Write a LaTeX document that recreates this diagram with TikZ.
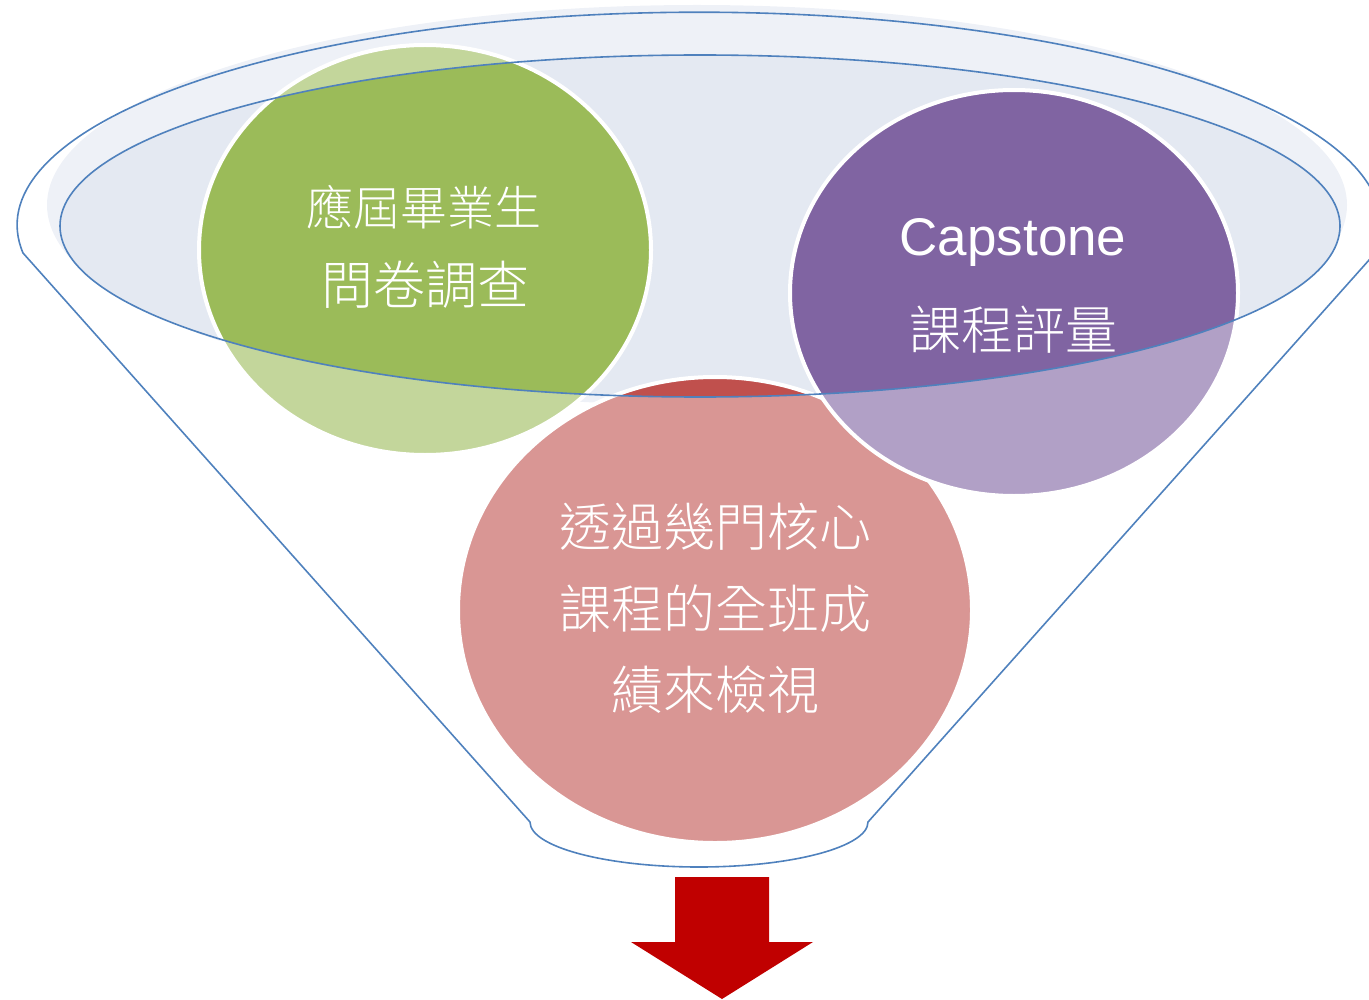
\documentclass[tikz,border=0pt]{standalone}
\usepackage{fontspec}
\newfontfamily\cjk{Noto Sans CJK TC Light}
\newfontfamily\lat{Liberation Sans}
\definecolor{outerfill}{HTML}{EEF1F7}
\definecolor{innerfill}{HTML}{E4E9F2}
\definecolor{funnelblue}{HTML}{4F81BD}
\definecolor{greenD}{HTML}{9BBB59}
\definecolor{greenL}{HTML}{C3D69B}
\definecolor{purpleD}{HTML}{8064A2}
\definecolor{purpleL}{HTML}{B1A0C6}
\definecolor{redD}{HTML}{C0504D}
\definecolor{redL}{HTML}{D99694}
\definecolor{arrowred}{HTML}{C00000}
\tikzset{
  funnel/.style={draw=funnelblue, line width=0.8pt},
  rim/.style={draw=white, line width=2pt},
  cjktxt/.style={text=white, font=\cjk\fontsize{26}{30}\selectfont, inner sep=0pt},
  lattxt/.style={text=white, font=\lat\fontsize{26.5}{30}\selectfont, inner sep=0pt}
}
\begin{document}
\begin{tikzpicture}[x=0.5pt,y=-0.5pt]
\useasboundingbox (0,0) rectangle (1369,1000);
\clip (0,0) rectangle (1369,1000);
% funnel mouth fills
\fill[outerfill] (697,205) ellipse [x radius=650, y radius=200];
\fill[innerfill] (700,226) ellipse [x radius=640, y radius=171];
% green circle
\fill[greenL] (425,250) ellipse [x radius=226, y radius=205];
\begin{scope}
  \clip (700,226) ellipse [x radius=640, y radius=171];
  \fill[greenD] (425,250) ellipse [x radius=226, y radius=205];
\end{scope}
\draw[rim] (425,250) ellipse [x radius=226, y radius=205];
% red circle
\fill[redL] (715,610) ellipse [x radius=257, y radius=233];
\begin{scope}
  \clip (700,226) ellipse [x radius=640, y radius=171];
  \fill[redD] (715,610) ellipse [x radius=257, y radius=233];
\end{scope}
\draw[rim] (715,610) ellipse [x radius=257, y radius=233];
% purple circle
\fill[purpleL] (1014,293) ellipse [x radius=224, y radius=203];
\begin{scope}
  \clip (700,226) ellipse [x radius=640, y radius=171];
  \fill[purpleD] (1014,293) ellipse [x radius=224, y radius=203];
\end{scope}
\draw[rim] (1014,293) ellipse [x radius=224, y radius=203];
% outlines
\draw[funnel] (700,226) ellipse [x radius=640, y radius=171];
\draw[funnel] (530,822) -- (23,253)
  arc[start angle=172.5, end angle=367.5, x radius=682, y radius=213]
  -- (868,822)
  arc[start angle=0, end angle=180, x radius=169, y radius=45];
% arrow
\fill[arrowred] (675,877) -- (769,877) -- (769,942) -- (813,942) -- (722,999) -- (631,942) -- (675,942) -- cycle;
% texts
\node[cjktxt, font=\cjk\fontsize{23.5}{30}\selectfont] (g1) at (424,207) {應屆畢業生};
\node[cjktxt] (g2) at (425,285) {問卷調查};
\node[lattxt] (p1) at (1013,242) {Capstone};
\node[cjktxt] (p2) at (1013,330) {課程評量};
\node[cjktxt] (r1) at (715,527) {透過幾門核心};
\node[cjktxt] (r2) at (715,609) {課程的全班成};
\node[cjktxt] (r3) at (715,690) {績來檢視};
\end{tikzpicture}
\end{document}
